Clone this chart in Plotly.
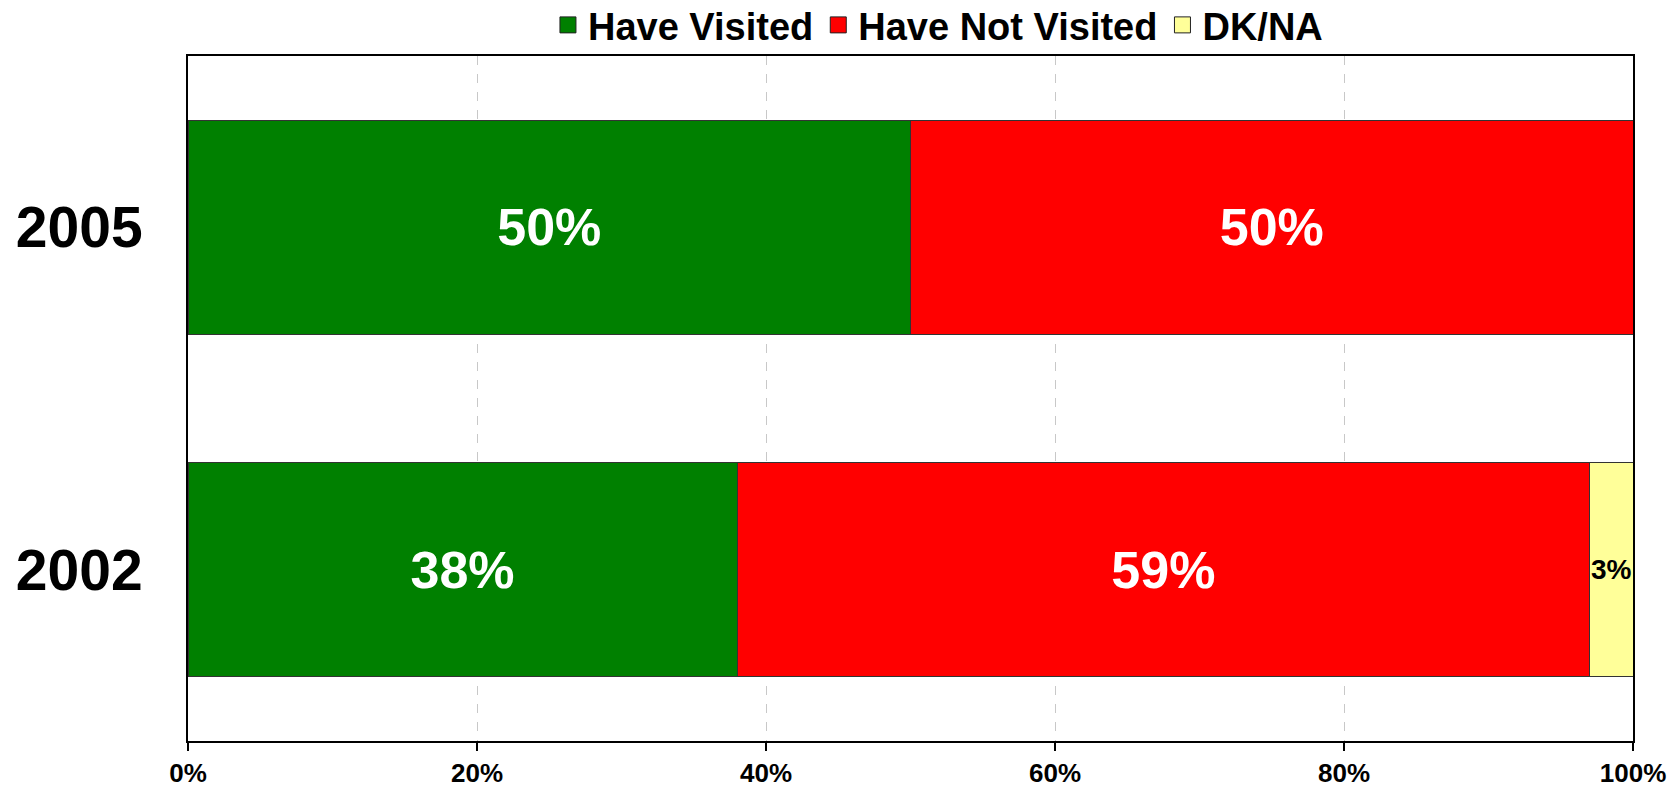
import plotly.graph_objects as go

years = ["2002", "2005"]
have_visited = [38, 50]
have_not_visited = [59, 50]
dk_na = [3, 0]

x_ticks = [0, 20, 40, 60, 80, 100]
x_tick_labels = ["0%", "20%", "40%", "60%", "80%", "100%"]

FONT = "Liberation Sans, Arial, sans-serif"


def labels(vals):
    return [f"{v}%" if v > 0 else "" for v in vals]


fig = go.Figure()

series = [
    ("Have Visited", have_visited, "#008000", "white", 52),
    ("Have Not Visited", have_not_visited, "#ff0000", "white", 52),
    ("DK/NA", dk_na, "#ffff99", "black", 28),
]

for name, vals, color, txtcolor, txtsize in series:
    fig.add_trace(go.Bar(
        y=years,
        x=vals,
        name=name,
        orientation="h",
        showlegend=False,
        marker=dict(color=color, line=dict(color="#333333", width=1)),
        text=labels(vals),
        textposition="inside",
        insidetextanchor="middle",
        textangle=0,
        constraintext="none",
        textfont=dict(family=FONT, size=txtsize, color=txtcolor, weight="bold"),
        cliponaxis=False,
    ))

# bigger square legend keys than the bar legend icons
for name, vals, color, txtcolor, txtsize in series:
    fig.add_trace(go.Scatter(
        x=[None], y=[None],
        name=name,
        mode="markers",
        marker=dict(symbol="square", size=16, color=color,
                    line=dict(color="#222222", width=1)),
    ))

fig.update_layout(
    barmode="stack",
    bargap=0.376,
    width=1680,
    height=790,
    margin=dict(l=188, r=47, t=56, b=49, autoexpand=False),
    plot_bgcolor="white",
    paper_bgcolor="white",
    font=dict(family=FONT, color="black"),
    legend=dict(
        orientation="h",
        x=0.519,
        xanchor="center",
        y=1.045,
        yanchor="middle",
        font=dict(family=FONT, size=38, color="black", weight="bold"),
        traceorder="normal",
        itemwidth=30,
        bgcolor="rgba(0,0,0,0)",
    ),
)

fig.update_xaxes(
    range=[0, 100],
    tickvals=x_ticks,
    ticktext=x_tick_labels,
    tickfont=dict(family=FONT, size=26, color="black", weight="bold"),
    ticks="outside",
    ticklen=8,
    tickwidth=2,
    tickcolor="black",
    ticklabelstandoff=0,
    showline=True,
    linecolor="black",
    linewidth=2,
    mirror=True,
    showgrid=True,
    gridcolor="#c8c8c8",
    gridwidth=1,
    griddash="dash",
    zeroline=False,
)

fig.update_yaxes(
    type="category",
    range=[-0.5, 1.5],
    tickfont=dict(family=FONT, size=57, color="black", weight="bold"),
    ticks="",
    ticklabelstandoff=32,
    showline=True,
    linecolor="black",
    linewidth=2,
    mirror=True,
    showgrid=False,
)

fig.write_html("out.html", config={"displayModeBar": False},
               post_script="document.body.style.margin='0';")
